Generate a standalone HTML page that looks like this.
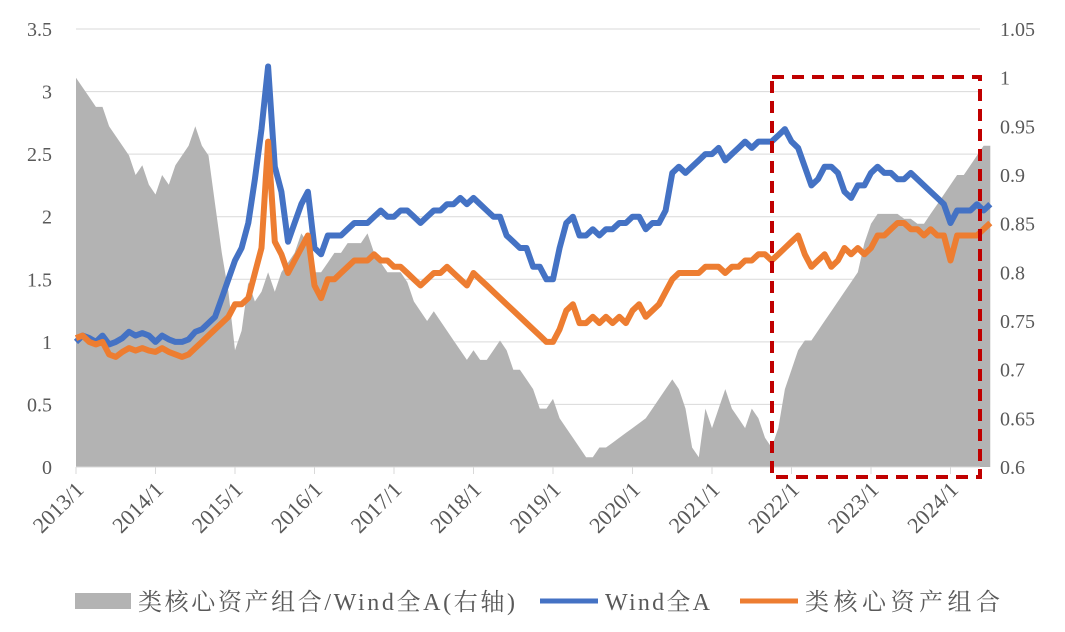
<!DOCTYPE html>
<html><head><meta charset="utf-8"><style>
body{margin:0;background:#fff;}
svg text{font-family:"Liberation Serif","Noto Serif CJK SC",serif;fill:#595959;}
</style></head><body>
<svg id="c" width="1065" height="627" xmlns="http://www.w3.org/2000/svg"></svg>
<script>
const years=["2013/1","2014/1","2015/1","2016/1","2017/1","2018/1","2019/1","2020/1","2021/1","2022/1","2023/1","2024/1"];
const leftTicks=[0,0.5,1,1.5,2,2.5,3,3.5];
const rightTicks=[0.6,0.65,0.7,0.75,0.8,0.85,0.9,0.95,1,1.05];
const windA=[1.0,1.05,1.03,1.0,1.05,0.98,1.0,1.03,1.08,1.05,1.07,1.05,
1.0,1.05,1.02,1.0,1.0,1.02,1.08,1.1,1.15,1.2,1.35,1.5,
1.65,1.75,1.95,2.3,2.7,3.2,2.4,2.2,1.8,1.95,2.1,2.2,
1.75,1.7,1.85,1.85,1.85,1.9,1.95,1.95,1.95,2.0,2.05,2.0,
2.0,2.05,2.05,2.0,1.95,2.0,2.05,2.05,2.1,2.1,2.15,2.1,
2.15,2.1,2.05,2.0,2.0,1.85,1.8,1.75,1.75,1.6,1.6,1.5,
1.5,1.75,1.95,2.0,1.85,1.85,1.9,1.85,1.9,1.9,1.95,1.95,
2.0,2.0,1.9,1.95,1.95,2.05,2.35,2.4,2.35,2.4,2.45,2.5,
2.5,2.55,2.45,2.5,2.55,2.6,2.55,2.6,2.6,2.6,2.65,2.7,
2.6,2.55,2.4,2.25,2.3,2.4,2.4,2.35,2.2,2.15,2.25,2.25,
2.35,2.4,2.35,2.35,2.3,2.3,2.35,2.3,2.25,2.2,2.15,2.1,
1.95,2.05,2.05,2.05,2.1,2.05,2.1];
const corePort=[1.03,1.05,1.0,0.98,1.0,0.9,0.88,0.92,0.95,0.93,0.95,0.93,
0.92,0.95,0.92,0.9,0.88,0.9,0.95,1.0,1.05,1.1,1.15,1.2,
1.3,1.3,1.35,1.55,1.75,2.6,1.8,1.7,1.55,1.65,1.75,1.85,
1.45,1.35,1.5,1.5,1.55,1.6,1.65,1.65,1.65,1.7,1.65,1.65,
1.6,1.6,1.55,1.5,1.45,1.5,1.55,1.55,1.6,1.55,1.5,1.45,
1.55,1.5,1.45,1.4,1.35,1.3,1.25,1.2,1.15,1.1,1.05,1.0,
1.0,1.1,1.25,1.3,1.15,1.15,1.2,1.15,1.2,1.15,1.2,1.15,
1.25,1.3,1.2,1.25,1.3,1.4,1.5,1.55,1.55,1.55,1.55,1.6,
1.6,1.6,1.55,1.6,1.6,1.65,1.65,1.7,1.7,1.65,1.7,1.75,
1.8,1.85,1.7,1.6,1.65,1.7,1.6,1.65,1.75,1.7,1.75,1.7,
1.75,1.85,1.85,1.9,1.95,1.95,1.9,1.9,1.85,1.9,1.85,1.85,
1.65,1.85,1.85,1.85,1.85,1.9,1.95];
const ratio=[1.0,0.99,0.98,0.97,0.97,0.95,0.94,0.93,0.92,0.9,0.91,0.89,
0.88,0.9,0.89,0.91,0.92,0.93,0.95,0.93,0.92,0.87,0.82,0.78,
0.72,0.74,0.79,0.77,0.78,0.80,0.78,0.80,0.81,0.82,0.84,0.83,
0.80,0.80,0.81,0.82,0.82,0.83,0.83,0.83,0.84,0.82,0.81,0.80,
0.80,0.80,0.79,0.77,0.76,0.75,0.76,0.75,0.74,0.73,0.72,0.71,
0.72,0.71,0.71,0.72,0.73,0.72,0.70,0.70,0.69,0.68,0.66,0.66,
0.67,0.65,0.64,0.63,0.62,0.61,0.61,0.62,0.62,0.625,0.63,0.635,
0.64,0.645,0.65,0.66,0.67,0.68,0.69,0.68,0.66,0.62,0.61,0.66,
0.64,0.66,0.68,0.66,0.65,0.64,0.66,0.65,0.63,0.62,0.64,0.68,
0.70,0.72,0.73,0.73,0.74,0.75,0.76,0.77,0.78,0.79,0.80,0.83,
0.85,0.86,0.86,0.86,0.86,0.855,0.855,0.85,0.85,0.86,0.87,0.88,
0.89,0.9,0.9,0.91,0.92,0.93,0.93];

const svg=document.getElementById('c');const NS='http://www.w3.org/2000/svg';
const X0=76,YW=79.5,Ybase=467,Ytop=29;
const x=m=>X0+m*YW/12;
const yL=v=>Ybase-(v/3.5)*(Ybase-Ytop);
const yR=v=>Ybase-((v-0.6)/0.45)*(Ybase-Ytop);
function el(t,a){const e=document.createElementNS(NS,t);for(const k in a)e.setAttribute(k,a[k]);svg.appendChild(e);return e;}
leftTicks.forEach(v=>{
 const g=el('line',{x1:X0,x2:980,y1:yL(v),y2:yL(v),stroke:'#d9d9d9','stroke-width':1});
 
 
 const t=el('text',{x:52,y:yL(v)+7,'text-anchor':'end','font-size':20});t.textContent=v;
 
 
});
rightTicks.forEach(v=>{
 const t=el('text',{x:1000,y:yR(v)+7,'font-size':20});t.textContent=v;
 
 
});
let d='M'+x(0)+','+Ybase;ratio.forEach((v,i)=>d+=' L'+x(i).toFixed(1)+','+yR(v).toFixed(1));d+=' L'+x(ratio.length-1)+','+Ybase+'Z';
const area=el('path',{d:d,fill:'#b3b3b3'});


el('line',{x1:X0,x2:980,y1:Ybase,y2:Ybase,stroke:'#d9d9d9','stroke-width':1});
years.forEach((s,i)=>{
 el('line',{x1:x(i*12),x2:x(i*12),y1:Ybase,y2:Ybase+7,stroke:'#d9d9d9','stroke-width':1});
 const t=el('text',{transform:`translate(${x(i*12)+9},${Ybase+24}) rotate(-45)`,'text-anchor':'end','font-size':22});t.textContent=s;
 
 
});
function line(arr,col,name){let p='';arr.forEach((v,i)=>p+=(i?' L':'M')+x(i).toFixed(1)+','+yL(v).toFixed(1));
 const e=el('path',{d:p,fill:'none',stroke:col,'stroke-width':6,'stroke-linejoin':'round'});
 
 }
line(windA,'#4472c4','wind-a-line');
line(corePort,'#ed7d31','core-portfolio-line');
const box=el('rect',{x:772,y:77,width:208,height:400,fill:'none',stroke:'#c00000','stroke-width':4,'stroke-dasharray':'12 8'});


const l1=el('rect',{x:75,y:593,width:56,height:16,fill:'#b3b3b3'});


const t1=el('text',{x:138,y:610,'font-size':24,textLength:377,lengthAdjust:'spacing'});t1.textContent='类核心资产组合/Wind全A(右轴)';


const l2=el('line',{x1:540,x2:598,y1:601,y2:601,stroke:'#4472c4','stroke-width':5});


const t2=el('text',{x:605,y:610,'font-size':24,textLength:105,lengthAdjust:'spacing'});t2.textContent='Wind全A';


const l3=el('line',{x1:740,x2:798,y1:601,y2:601,stroke:'#ed7d31','stroke-width':5});


const t3=el('text',{x:805,y:610,'font-size':24,textLength:195,lengthAdjust:'spacing'});t3.textContent='类核心资产组合';


</script>
</body></html>
